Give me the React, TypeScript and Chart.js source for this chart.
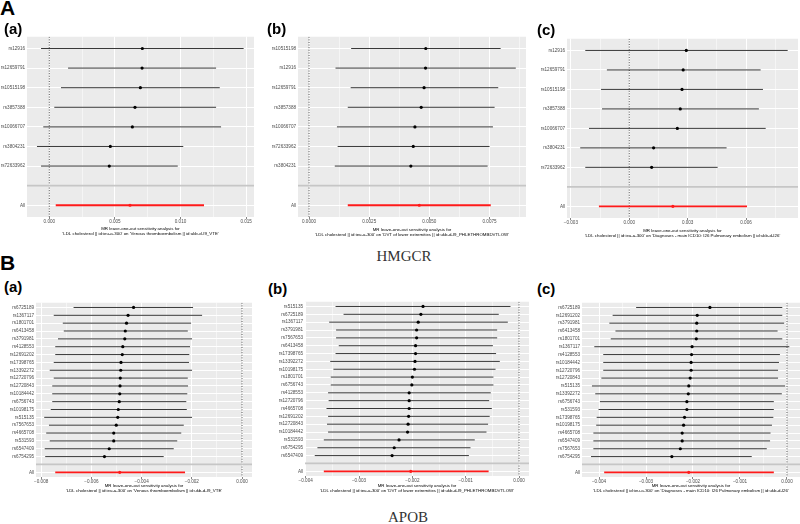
import React, { useEffect, useRef } from 'react';
import { Chart, registerables } from 'chart.js';
Chart.register(...registerables);
Chart.defaults.font.family = '"Liberation Sans", Arial, sans-serif';

// ---------------- HMGCR (A) ----------------
const aaSnps = ['rs12916', 'rs12659791', 'rs10515198', 'rs3857388', 'rs10066707', 'rs3804231', 'rs72633962'];
const aaB = [0.00709, 0.00707, 0.00694, 0.00653, 0.00633, 0.00465, 0.00457];
const aaLo = [-0.00063, 0.00143, 0.00089, 0.00038, -0.00046, -0.00094, -0.00063];
const aaHi = [0.01481, 0.01271, 0.01299, 0.01271, 0.01309, 0.01021, 0.00979];
const aaAll = [0.00615, 0.00049, 0.01179];
const aaTicks = [0, 0.005, 0.01, 0.015];

const abSnps = ['rs10515198', 'rs12916', 'rs12659791', 'rs3857388', 'rs10066707', 'rs72633962', 'rs3804231'];
const abB = [0.00485, 0.00484, 0.00478, 0.00466, 0.0044, 0.00433, 0.00423];
const abLo = [0.00175, 0.0011, 0.00173, 0.00161, 0.00116, 0.00119, 0.00107];
const abHi = [0.00796, 0.00859, 0.00786, 0.00771, 0.00764, 0.0075, 0.00742];
const abAll = [0.00458, 0.00161, 0.00755];
const abTicks = [0, 0.0025, 0.005, 0.0075];

const acSnps = ['rs12916', 'rs12659791', 'rs10515198', 'rs3857388', 'rs10066707', 'rs3804231', 'rs72633962'];
const acB = [0.00293, 0.00277, 0.00271, 0.00262, 0.00247, 0.00125, 0.00115];
const acLo = [-0.00226, -0.00115, -0.00145, -0.0014, -0.00207, -0.00252, -0.00226];
const acHi = [0.00814, 0.00675, 0.00687, 0.00666, 0.00701, 0.005, 0.00454];
const acAll = [0.00224, -0.00156, 0.00605];
const acTicks = [-0.003, 0, 0.003, 0.006];

// ---------------- APOB (B) ----------------
const baSnps = ['rs6725189', 'rs1367117', 'rs1801701', 'rs6413458', 'rs3791981', 'rs4128553', 'rs12691202', 'rs17398765', 'rs13392272', 'rs12720796', 'rs12720843', 'rs10184442', 'rs6756743', 'rs10198175', 'rs515135', 'rs7567653', 'rs4665708', 'rs531593', 'rs6547409', 'rs6754295'];
const baB = [-0.00432, -0.00454, -0.0046, -0.00465, -0.00467, -0.00475, -0.00477, -0.00482, -0.00483, -0.00485, -0.00486, -0.00487, -0.00489, -0.00493, -0.00495, -0.00501, -0.00511, -0.00511, -0.00529, -0.00548];
const baLo = [-0.00671, -0.0075, -0.00714, -0.0071, -0.00733, -0.00744, -0.00744, -0.0075, -0.00766, -0.0075, -0.00756, -0.00756, -0.00756, -0.00762, -0.00788, -0.00769, -0.0078, -0.00766, -0.00786, -0.00784];
const baHi = [-0.00195, -0.00159, -0.00203, -0.00216, -0.00199, -0.00207, -0.0021, -0.00211, -0.00199, -0.00216, -0.00215, -0.00218, -0.00222, -0.0022, -0.00199, -0.00232, -0.00242, -0.00258, -0.00272, -0.00312];
const baAll = [-0.00487, -0.00744, -0.00227];
const baTicks = [-0.008, -0.006, -0.004, -0.002, 0];

const bbSnps = ['rs515135', 'rs6725189', 'rs1367117', 'rs3791981', 'rs7567653', 'rs6413458', 'rs17398765', 'rs13392272', 'rs10198175', 'rs1801701', 'rs6756743', 'rs4128553', 'rs12720796', 'rs4665708', 'rs12691202', 'rs12720843', 'rs10184442', 'rs531593', 'rs6754295', 'rs6547409'];
const bbB = [-0.0018, -0.00184, -0.00189, -0.00192, -0.00192, -0.00194, -0.00194, -0.00195, -0.00196, -0.002, -0.00201, -0.00206, -0.00206, -0.00206, -0.00207, -0.00208, -0.00209, -0.00225, -0.00234, -0.00238];
const bbLo = [-0.00344, -0.00329, -0.00356, -0.00343, -0.00343, -0.00338, -0.00344, -0.00354, -0.00348, -0.00353, -0.00353, -0.00358, -0.00357, -0.00361, -0.00358, -0.0036, -0.00358, -0.00366, -0.00378, -0.00383];
const bbHi = [-0.00016, -0.00038, -0.00021, -0.00041, -0.00041, -0.00049, -0.00043, -0.00036, -0.00044, -0.00048, -0.00048, -0.00053, -0.00056, -0.00051, -0.00055, -0.00058, -0.00061, -0.00083, -0.00091, -0.00094];
const bbAll = [-0.00203, -0.00366, -0.00057];
const bbTicks = [-0.004, -0.003, -0.002, -0.001, 0];

const bcSnps = ['rs6725189', 'rs12691202', 'rs3791981', 'rs6413458', 'rs1801701', 'rs1367117', 'rs4128553', 'rs10184442', 'rs12720796', 'rs12720843', 'rs515135', 'rs13392272', 'rs6756743', 'rs531593', 'rs17398765', 'rs10198175', 'rs4665708', 'rs6547409', 'rs7567653', 'rs6754295'];
const bcB = [-0.00164, -0.00191, -0.00192, -0.00192, -0.00193, -0.00202, -0.00203, -0.00204, -0.00204, -0.00206, -0.00209, -0.0021, -0.00213, -0.00213, -0.00218, -0.0022, -0.00223, -0.00223, -0.00227, -0.00245];
const bcLo = [-0.00321, -0.00371, -0.00378, -0.00365, -0.00375, -0.0041, -0.00391, -0.00391, -0.00391, -0.00395, -0.00415, -0.00408, -0.00398, -0.00401, -0.00405, -0.00406, -0.00412, -0.00412, -0.00412, -0.00417];
const bcHi = [-0.0001, -0.0001, -0.00006, -0.0002, -0.0001, 0.00005, -0.00015, -0.00017, -0.00019, -0.00019, -0.00004, -0.00011, -0.00028, -0.00028, -0.00029, -0.00032, -0.00035, -0.00036, -0.00043, -0.00075];
const bcAll = [-0.00209, -0.00389, -0.00028];
const bcTicks = [-0.004, -0.003, -0.002, -0.001, 0];

const titleLine1 = 'MR leave-one-out sensitivity analysis for';
const outVTE = "'LDL cholesterol || id:ieu-a-300' on 'Venous thromboembolism || id:ukb-d-I9_VTE'";
const outDVT = "'LDL cholesterol || id:ieu-a-300' on 'DVT of lower extremities || id:ukb-d-I9_PHLETHROMBDVTLOW'";
const outPE = "'LDL cholesterol || id:ieu-a-300' on 'Diagnoses - main ICD10: I26 Pulmonary embolism || id:ukb-d-I26'";

type Spec = {
  snps: string[]; b: number[]; lo: number[]; hi: number[]; all: number[];
  ticks: number[]; dec: number; min: number; max: number; outcome: string;
  left: number; top: number; width: number; height: number;
  yAxW: number; xAxH: number; padTop: number; padRight: number;
};

const specs: Spec[] = [
  { snps: aaSnps, b: aaB, lo: aaLo, hi: aaHi, all: aaAll, ticks: aaTicks, dec: 3, min: -0.0017, max: 0.0156, outcome: outVTE,
    left: 0, top: 32, width: 258, height: 204, yAxW: 27, xAxH: 19, padTop: 4, padRight: 4 },
  { snps: abSnps, b: abB, lo: abLo, hi: abHi, all: abAll, ticks: abTicks, dec: 4, min: -0.000458, max: 0.009014, outcome: outDVT,
    left: 268, top: 32, width: 262, height: 205, yAxW: 30, xAxH: 20, padTop: 4, padRight: 4 },
  { snps: acSnps, b: acB, lo: acLo, hi: acHi, all: acAll, ticks: acTicks, dec: 3, min: -0.0032, max: 0.00867, outcome: outPE,
    left: 540, top: 34, width: 260, height: 204, yAxW: 27, xAxH: 20, padTop: 4, padRight: 2 },
  { snps: baSnps, b: baB, lo: baLo, hi: baHi, all: baAll, ticks: baTicks, dec: 3, min: -0.008207, max: 0.000398, outcome: outVTE,
    left: 1, top: 298, width: 255, height: 195, yAxW: 35, xAxH: 16, padTop: 4, padRight: 4 },
  { snps: bbSnps, b: bbB, lo: bbLo, hi: bbHi, all: bbAll, ticks: bbTicks, dec: 3, min: -0.004013, max: 0.000187, outcome: outDVT,
    left: 278, top: 297, width: 253, height: 196, yAxW: 27, xAxH: 17, padTop: 4, padRight: 2 },
  { snps: bcSnps, b: bcB, lo: bcLo, hi: bcHi, all: bcAll, ticks: bcTicks, dec: 3, min: -0.004362, max: 0.000277, outcome: outPE,
    left: 553, top: 298, width: 247, height: 195, yAxW: 29, xAxH: 16, padTop: 4, padRight: 0 },
];

const fmt = (v: number, d: number) => (v < -1e-12 ? '\u2212' : '') + Math.abs(v).toFixed(d);

const bgPlugin = {
  id: 'panelBg',
  beforeDraw(chart: any) {
    const { ctx, chartArea: a } = chart;
    ctx.save();
    ctx.fillStyle = '#EBEBEB';
    ctx.fillRect(a.left, a.top, a.right - a.left, a.bottom - a.top);
    ctx.restore();
  },
};

function Panel({ s }: { s: Spec }) {
  const ref = useRef<HTMLCanvasElement>(null);
  useEffect(() => {
    if (!ref.current) return;
    const labels = [...s.snps, '', 'All'];
    const n = labels.length;
    const blankPos = n - 1;
    const step = s.ticks[1] - s.ticks[0];
    const eps = step * 1e-6;
    const majors = s.ticks.filter((v) => v >= s.min - eps && v <= s.max + eps);
    const minors: number[] = [];
    for (let k = -1; k < s.ticks.length; k++) {
      const v = s.ticks[0] + (k + 0.5) * step;
      if (v >= s.min - eps && v <= s.max + eps) minors.push(v);
    }
    const isMajor = (v: any) => typeof v === 'number' && majors.some((m) => Math.abs(m - v) < eps);
    const xt = [...majors, ...minors].sort((a, b) => a - b);

    const datasets: any[] = [];
    datasets.push({
      data: [{ x: 0, y: 0.4 }, { x: 0, y: n + 0.6 }],
      showLine: true, borderColor: '#222', borderWidth: 0.8, borderDash: [1, 1.6], pointRadius: 0, order: 6,
    });
    s.snps.forEach((_, i) => {
      datasets.push({
        data: [{ x: s.lo[i], y: i + 1 }, { x: s.hi[i], y: i + 1 }],
        showLine: true, borderColor: 'rgba(0,0,0,0.78)', borderWidth: 1, pointRadius: 0, order: 4,
      });
    });
    datasets.push({
      data: [{ x: s.all[1], y: n }, { x: s.all[2], y: n }],
      showLine: true, borderColor: '#ff1a1a', borderWidth: 1.8, pointRadius: 0, order: 3,
    });
    datasets.push({
      data: [{ x: s.min, y: blankPos }, { x: s.max, y: blankPos }],
      showLine: true, borderColor: '#c6c6c6', borderWidth: 1.8, pointRadius: 0, order: 2,
    });
    datasets.push({
      data: s.snps.map((_, i) => ({ x: s.b[i], y: i + 1 })),
      pointRadius: 1.6, pointBackgroundColor: '#000', pointBorderWidth: 0, order: 1,
    });
    datasets.push({
      data: [{ x: s.all[0], y: n }],
      pointRadius: 1.6, pointBackgroundColor: '#ff1a1a', pointBorderWidth: 0, order: 0,
    });

    const chart = new Chart(ref.current, {
      type: 'scatter',
      data: { datasets },
      options: {
        animation: false,
        responsive: false,
        events: [],
        layout: { autoPadding: false, padding: { top: s.padTop, right: s.padRight, left: 0, bottom: 0 } },
        plugins: { legend: { display: false }, tooltip: { enabled: false } },
        scales: {
          x: {
            type: 'linear', min: s.min, max: s.max,
            afterBuildTicks: (sc: any) => { sc.ticks = xt.map((v) => ({ value: v })); },
            afterFit: (sc: any) => { sc.height = s.xAxH; },
            border: { display: false },
            grid: {
              color: '#ffffff',
              lineWidth: (c: any) => (isMajor(c.tick && c.tick.value) ? 1 : 0.5),
              drawTicks: true, tickLength: 2, tickWidth: 0.6,
              tickColor: (c: any) => (isMajor(c.tick && c.tick.value) ? '#333333' : 'rgba(0,0,0,0)'),
            },
            ticks: {
              autoSkip: false, maxRotation: 0, minRotation: 0, padding: 0, color: '#4D4D4D', font: { size: 4.6 },
              callback: (v: any) => (isMajor(v) ? fmt(v, s.dec) : ''),
            },
            title: { display: true, text: [titleLine1, s.outcome], color: '#000', font: { size: 4.4, lineHeight: 1.15 }, padding: 0 },
          },
          y: {
            type: 'linear', reverse: true, min: 0.4, max: n + 0.6,
            afterBuildTicks: (sc: any) => { sc.ticks = labels.map((_, i) => ({ value: i + 1 })); },
            afterFit: (sc: any) => { sc.width = s.yAxW; },
            border: { display: false },
            grid: { color: '#ffffff', lineWidth: 1, drawTicks: false },
            ticks: {
              autoSkip: false, padding: 2, color: '#4D4D4D', font: { size: 4.6 },
              callback: (v: any) => labels[Math.round(v) - 1] ?? '',
            },
          },
        },
      } as any,
      plugins: [bgPlugin],
    });
    return () => chart.destroy();
  }, [s]);
  return (
    <canvas
      ref={ref}
      width={s.width}
      height={s.height}
      style={{ position: 'absolute', left: s.left, top: s.top, width: s.width, height: s.height }}
    />
  );
}

const sans = '"Liberation Sans", Arial, sans-serif';
const serif = '"Liberation Serif", "Times New Roman", serif';

function Label({ text, left, top, size, bold = true, font = sans, color = '#000', center = false }: any) {
  return (
    <div
      style={{
        position: 'absolute', left, top, fontFamily: font, fontSize: size, fontWeight: bold ? 700 : 400,
        lineHeight: 1, color, whiteSpace: 'nowrap', transform: center ? 'translateX(-50%)' : undefined,
      }}
    >
      {text}
    </div>
  );
}

export default function App() {
  return (
    <div style={{ position: 'absolute', left: 0, top: 0, width: 800, height: 524, background: '#fff', overflow: 'hidden' }}>
      {specs.map((s, i) => (
        <Panel key={i} s={s} />
      ))}
      <Label text="A" left={0} top={-3} size={21} />
      <Label text="(a)" left={4} top={21} size={15} />
      <Label text="(b)" left={267} top={21} size={15} />
      <Label text="(c)" left={537} top={22} size={15} />
      <Label text="HMGCR" left={404} top={249} size={15} bold={false} font={serif} color="#333" center />
      <Label text="B" left={0} top={252} size={21} />
      <Label text="(a)" left={4} top={279} size={15} />
      <Label text="(b)" left={268} top={281} size={15} />
      <Label text="(c)" left={537} top={281} size={15} />
      <Label text="APOB" left={408} top={510} size={15} bold={false} font={serif} color="#333" center />
    </div>
  );
}
